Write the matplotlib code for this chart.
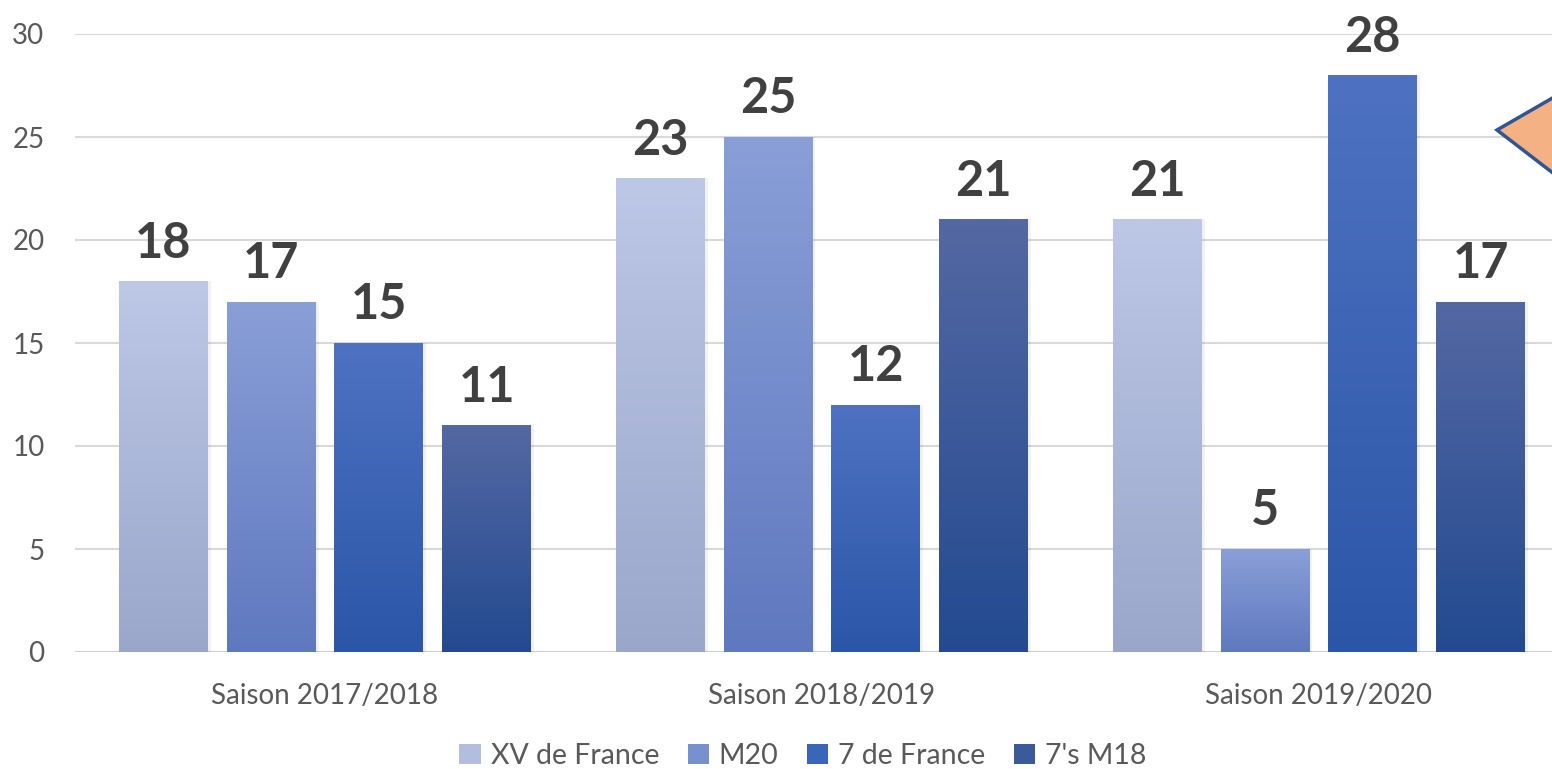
import numpy as np
import matplotlib
matplotlib.use("Agg")
import matplotlib.pyplot as plt
from matplotlib.patches import Patch, Polygon
from matplotlib.colors import LinearSegmentedColormap

plt.rcParams["font.family"] = ["Lato", "DejaVu Sans"]

seasons = ["Saison 2017/2018", "Saison 2018/2019", "Saison 2019/2020"]
series = ["XV de France", "M20", "7 de France", "7's M18"]
xv_france = [18, 23, 21]
m20 = [17, 25, 5]
sept_france = [15, 12, 28]
sept_m18 = [11, 21, 17]
values = [xv_france, m20, sept_france, sept_m18]

# gradient colours per series (top, bottom)
grads = [
    ("#bdc7e6", "#9aa7cb"),
    ("#8a9fd8", "#5f79bf"),
    ("#4e72c1", "#2b56a8"),
    ("#5468a3", "#234a90"),
]
legend_cols = ["#b3bde0", "#7990cf", "#3a65b9", "#3b5a9c"]

W, H = 1552, 769
fig = plt.figure(figsize=(W / 100, H / 100), dpi=100)
ax = fig.add_axes([75 / W, 1 - 652 / H, 1 - 75 / W, (652 - 34) / H])

x = np.arange(len(seasons))
width = 0.179
step = 0.217
text_col = "#404040"

for i, (name, vals) in enumerate(zip(series, values)):
    pos = x + (i - 1.5) * step
    bars = ax.bar(pos, vals, width=width, color="none", zorder=3)
    cmap = LinearSegmentedColormap.from_list(name, [grads[i][1], grads[i][0]])
    for b, p, v in zip(bars, pos, vals):
        x0 = b.get_x()
        # soft shadow
        ax.bar(p + 0.003, v, width=width + 0.006, color="#000000", alpha=0.05, zorder=2)
        grad = np.linspace(0, 1, 256).reshape(-1, 1)
        im = ax.imshow(grad, cmap=cmap, origin="lower", aspect="auto",
                       extent=[x0, x0 + width, 0, v], zorder=3)
        im.set_clip_path(b)
        ax.text(p, v + 1.15, str(v), ha="center", va="baseline",
                fontsize=35, fontweight="bold", color=text_col, zorder=4)

ax.set_xlim(-0.503, 2.469)
ax.set_ylim(0, 30)
ax.set_yticks(range(0, 31, 5))
ax.set_xticks(x)
ax.set_xticklabels(seasons)
ax.tick_params(axis="y", length=0, pad=22, labelsize=20, labelcolor="#595959")
ax.tick_params(axis="x", length=0, pad=22, labelsize=20, labelcolor="#595959")
ax.yaxis.grid(True, color="#d9d9d9", linewidth=1.5, zorder=0)
ax.set_axisbelow(True)
for s in ax.spines.values():
    s.set_visible(False)
ax.axhline(0, color="#d0d0d0", linewidth=1.5, zorder=1)

handles = [Patch(facecolor=c, edgecolor="none", label=n) for c, n in zip(legend_cols, series)]
fig.legend(handles=handles, loc="center", bbox_to_anchor=(803 / W, 1 - 756 / H),
           ncol=4, frameon=False, fontsize=20.5, labelcolor="#595959",
           handlelength=0.75, handleheight=0.75, handletextpad=0.35, columnspacing=1.0)

# orange call-out shape cut at the right edge
tri = Polygon([(1497 / W, 1 - 130 / H), (1575 / W, 1 - 85 / H), (1575 / W, 1 - 190 / H)],
              closed=True, transform=fig.transFigure, facecolor="#f4b183",
              edgecolor="#2f5597", linewidth=2.5, zorder=10)
fig.patches.append(tri)

fig.savefig("out.png", dpi=100)
